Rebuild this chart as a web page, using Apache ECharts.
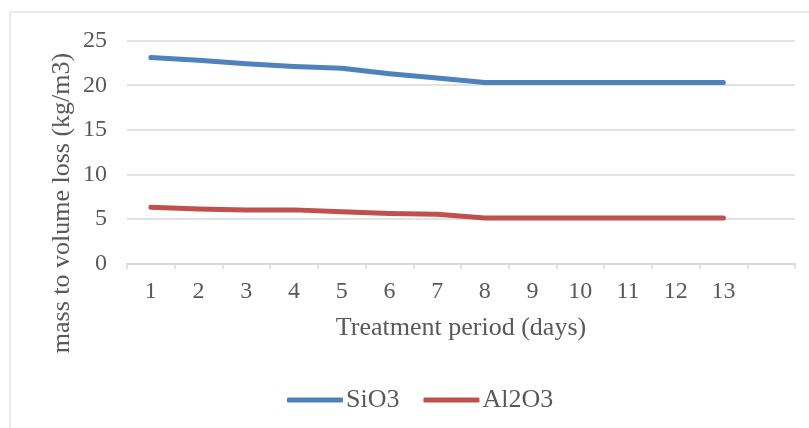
<!DOCTYPE html>
<html>
<head>
<meta charset="utf-8">
<script src="https://cdn.jsdelivr.net/npm/echarts@6/dist/echarts.min.js"></script>
<style>
  html, body { margin: 0; padding: 0; background: #ffffff; }
  #chart { width: 809px; height: 428px; }
</style>
</head>
<body>
<div id="chart"></div>
<script>
// Treatment days (the trailing blank slot leaves room after day 13)
const days = ['1', '2', '3', '4', '5', '6', '7', '8', '9', '10', '11', '12', '13', ''];

// Mass to volume loss, kg/m3
const sio3 = [23.1, 22.8, 22.4, 22.1, 21.9, 21.3, 20.8, 20.3, 20.3, 20.3, 20.3, 20.3, 20.3];
const al2o3 = [6.3, 6.1, 6.0, 6.0, 5.8, 5.6, 5.5, 5.1, 5.1, 5.1, 5.1, 5.1, 5.1];

// Value axis ticks
const yTicks = [0, 5, 10, 15, 20, 25];

const FONT = 'Liberation Serif';
const TEXT = '#595959';
const GRID = '#d9d9d9';

const chart = echarts.init(document.getElementById('chart'));
chart.setOption({
  animation: false,
  backgroundColor: '#ffffff',
  grid: { left: 127, right: 14, top: 40.7, bottom: 164.7 },
  graphic: [
    {
      type: 'rect',
      shape: { x: 10, y: 12, width: 830, height: 440 },
      style: { fill: 'none', stroke: GRID, lineWidth: 1.2 },
      silent: true
    },
    {
      type: 'text',
      x: 62,
      y: 203,
      rotation: Math.PI / 2,
      style: {
        text: 'mass to volume loss (kg/m3)',
        font: '26px "' + FONT + '"',
        fill: TEXT,
        textAlign: 'center',
        textVerticalAlign: 'middle'
      }
    }
  ],
  legend: {
    left: 287,
    top: 387,
    padding: 0,
    itemWidth: 56,
    itemHeight: 5,
    itemGap: 24,
    icon: 'roundRect',
    textStyle: { fontFamily: FONT, fontSize: 26, color: TEXT, padding: [0, 0, 0, -2] },
    data: ['SiO3', 'Al2O3']
  },
  xAxis: {
    type: 'category',
    data: days,
    boundaryGap: true,
    name: 'Treatment period (days)',
    nameLocation: 'middle',
    nameGap: 52,
    nameTextStyle: { fontFamily: FONT, fontSize: 26, color: TEXT },
    axisLine: { lineStyle: { color: GRID, width: 1.5 } },
    axisTick: { show: true, length: 6, lineStyle: { color: GRID, width: 1.5 } },
    axisLabel: { fontFamily: FONT, fontSize: 24, color: TEXT, margin: 16 },
    splitLine: { show: false }
  },
  yAxis: {
    type: 'value',
    min: yTicks[0],
    max: yTicks[yTicks.length - 1],
    interval: yTicks[1] - yTicks[0],
    axisLine: { show: false },
    axisTick: { show: false },
    axisLabel: { fontFamily: FONT, fontSize: 24, color: TEXT, margin: 20 },
    splitLine: { lineStyle: { color: GRID, width: 1.5 } }
  },
  series: [
    {
      name: 'SiO3',
      type: 'line',
      data: sio3,
      showSymbol: false,
      color: '#4F81BD',
      lineStyle: { width: 5, cap: 'round', join: 'round' }
    },
    {
      name: 'Al2O3',
      type: 'line',
      data: al2o3,
      showSymbol: false,
      color: '#C0504D',
      lineStyle: { width: 5, cap: 'round', join: 'round' }
    }
  ]
});
</script>
</body>
</html>
